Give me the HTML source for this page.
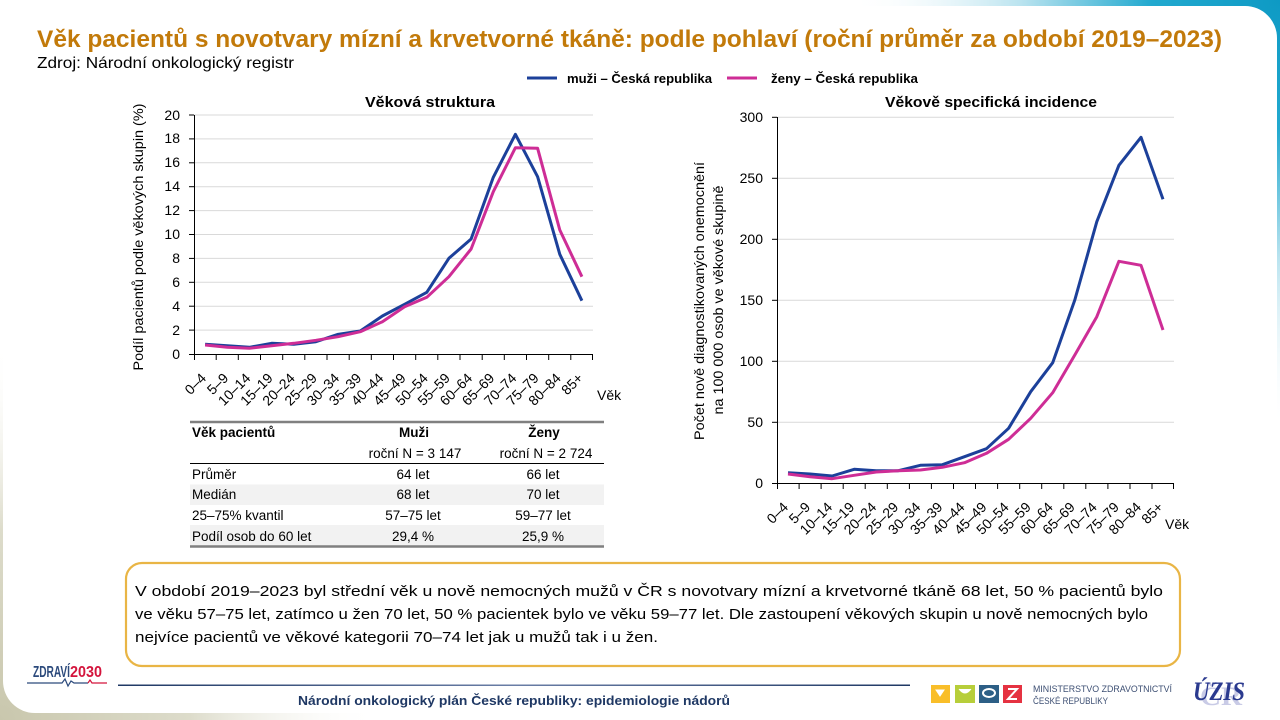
<!DOCTYPE html>
<html><head><meta charset="utf-8"><style>
html,body{margin:0;padding:0;width:1280px;height:720px;overflow:hidden;background:#fff}
svg{display:block;font-family:"Liberation Sans",sans-serif}
</style></head><body>
<svg width="1280" height="720" viewBox="0 0 1280 720" xmlns="http://www.w3.org/2000/svg">
<defs>
<radialGradient id="teal" cx="1280" cy="0" r="430" gradientUnits="userSpaceOnUse">
<stop offset="0" stop-color="#0e9ac4"/><stop offset="0.3" stop-color="#22a9cf"/><stop offset="0.6" stop-color="#b9e3ef"/><stop offset="1" stop-color="#ffffff" stop-opacity="0"/>
</radialGradient>
<radialGradient id="beige" cx="0" cy="720" r="380" gradientUnits="userSpaceOnUse">
<stop offset="0" stop-color="#c9c7ad"/><stop offset="0.5" stop-color="#dddccb"/><stop offset="1" stop-color="#ffffff" stop-opacity="0"/>
</radialGradient>
<linearGradient id="fline" x1="0" x2="1" y1="0" y2="0">
<stop offset="0" stop-color="#1f3864"/><stop offset="0.5" stop-color="#6a7ea6"/><stop offset="1" stop-color="#1f3864"/>
</linearGradient>
</defs>
<rect width="1280" height="720" fill="#fff"/>
<rect width="1280" height="720" fill="url(#teal)"/>
<rect width="1280" height="720" fill="url(#beige)"/>
<rect x="3" y="6" width="1274" height="707" rx="32" fill="#fff"/>

<!-- Title -->
<text x="37" y="47" font-size="24" font-weight="bold" fill="#c27a0a" textLength="1185" lengthAdjust="spacingAndGlyphs">Věk pacientů s novotvary mízní a krvetvorné tkáně: podle pohlaví (roční průměr za období 2019–2023)</text>
<text x="37" y="68" font-size="16" fill="#000" textLength="257" lengthAdjust="spacingAndGlyphs">Zdroj: Národní onkologický registr</text>

<!-- Legend -->
<line x1="527" y1="78" x2="557" y2="78" stroke="#1c409a" stroke-width="3"/>
<text x="567" y="83" font-size="12.5" font-weight="bold" fill="#000" textLength="145" lengthAdjust="spacingAndGlyphs">muži – Česká republika</text>
<line x1="727" y1="78" x2="757" y2="78" stroke="#ce2d96" stroke-width="3"/>
<text x="771" y="83" font-size="12.5" font-weight="bold" fill="#000" textLength="147" lengthAdjust="spacingAndGlyphs">ženy – Česká republika</text>

<!-- LEFT CHART -->
<text x="430" y="107" font-size="15" font-weight="bold" text-anchor="middle" textLength="130" lengthAdjust="spacingAndGlyphs">Věková struktura</text>
<g stroke="#d9d9d9" stroke-width="1">
<line x1="194" x2="593" y1="330.1" y2="330.1"/><line x1="194" x2="593" y1="306.2" y2="306.2"/>
<line x1="194" x2="593" y1="282.3" y2="282.3"/><line x1="194" x2="593" y1="258.4" y2="258.4"/>
<line x1="194" x2="593" y1="234.5" y2="234.5"/><line x1="194" x2="593" y1="210.6" y2="210.6"/>
<line x1="194" x2="593" y1="186.7" y2="186.7"/><line x1="194" x2="593" y1="162.8" y2="162.8"/>
<line x1="194" x2="593" y1="138.9" y2="138.9"/><line x1="194" x2="593" y1="115" y2="115"/>
</g>
<g stroke="#000" stroke-width="1">
<line x1="194.5" y1="115" x2="194.5" y2="354"/>
<line x1="194" y1="354.5" x2="593" y2="354.5"/>
<line x1="189" x2="194" y1="354.5" y2="354.5"/><line x1="189" x2="194" y1="330.1" y2="330.1"/><line x1="189" x2="194" y1="306.2" y2="306.2"/><line x1="189" x2="194" y1="282.3" y2="282.3"/><line x1="189" x2="194" y1="258.4" y2="258.4"/><line x1="189" x2="194" y1="234.5" y2="234.5"/><line x1="189" x2="194" y1="210.6" y2="210.6"/><line x1="189" x2="194" y1="186.7" y2="186.7"/><line x1="189" x2="194" y1="162.8" y2="162.8"/><line x1="189" x2="194" y1="138.9" y2="138.9"/><line x1="189" x2="194" y1="115" y2="115"/>
<line x1="194.5" x2="194.5" y1="354" y2="360"/><line x1="216.2" x2="216.2" y1="354" y2="360"/><line x1="238.3" x2="238.3" y1="354" y2="360"/><line x1="260.5" x2="260.5" y1="354" y2="360"/><line x1="282.7" x2="282.7" y1="354" y2="360"/><line x1="304.8" x2="304.8" y1="354" y2="360"/><line x1="327" x2="327" y1="354" y2="360"/><line x1="349.2" x2="349.2" y1="354" y2="360"/><line x1="371.3" x2="371.3" y1="354" y2="360"/><line x1="393.5" x2="393.5" y1="354" y2="360"/><line x1="415.7" x2="415.7" y1="354" y2="360"/><line x1="437.8" x2="437.8" y1="354" y2="360"/><line x1="460" x2="460" y1="354" y2="360"/><line x1="482.2" x2="482.2" y1="354" y2="360"/><line x1="504.3" x2="504.3" y1="354" y2="360"/><line x1="526.5" x2="526.5" y1="354" y2="360"/><line x1="548.7" x2="548.7" y1="354" y2="360"/><line x1="570.8" x2="570.8" y1="354" y2="360"/><line x1="592.5" x2="592.5" y1="354" y2="360"/>
</g>
<g font-size="14" text-anchor="end" fill="#000">
<text x="180" y="359">0</text><text x="180" y="335">2</text><text x="180" y="311">4</text><text x="180" y="287">6</text><text x="180" y="263">8</text><text x="180" y="239">10</text><text x="180" y="215">12</text><text x="180" y="191">14</text><text x="180" y="167">16</text><text x="180" y="143">18</text><text x="180" y="120">20</text>
</g>
<text transform="translate(143,237) rotate(-90)" font-size="14" text-anchor="middle" textLength="267" lengthAdjust="spacingAndGlyphs">Podíl pacientů podle věkových skupin (%)</text>
<g font-size="14" text-anchor="end" fill="#000">
<text transform="translate(207,379) rotate(-45)">0–4</text>
<text transform="translate(229.3,379) rotate(-45)">5–9</text>
<text transform="translate(251.4,379) rotate(-45)">10–14</text>
<text transform="translate(273.6,379) rotate(-45)">15–19</text>
<text transform="translate(295.8,379) rotate(-45)">20–24</text>
<text transform="translate(317.9,379) rotate(-45)">25–29</text>
<text transform="translate(340.1,379) rotate(-45)">30–34</text>
<text transform="translate(362.3,379) rotate(-45)">35–39</text>
<text transform="translate(384.4,379) rotate(-45)">40–44</text>
<text transform="translate(406.6,379) rotate(-45)">45–49</text>
<text transform="translate(428.8,379) rotate(-45)">50–54</text>
<text transform="translate(450.9,379) rotate(-45)">55–59</text>
<text transform="translate(473.1,379) rotate(-45)">60–64</text>
<text transform="translate(495.3,379) rotate(-45)">65–69</text>
<text transform="translate(517.4,379) rotate(-45)">70–74</text>
<text transform="translate(539.6,379) rotate(-45)">75–79</text>
<text transform="translate(561.8,379) rotate(-45)">80–84</text>
<text transform="translate(583.9,379) rotate(-45)">85+</text>
</g>
<text x="597" y="400" font-size="14">Věk</text>
<polyline fill="none" stroke="#1c409a" stroke-width="3" stroke-linejoin="round" points="205.1,344.3 227.3,345.7 249.4,347.3 271.6,343.3 293.8,344.3 315.9,341.7 338.1,334.3 360.3,331 382.4,316 404.6,304.3 426.8,292.3 448.9,258.3 471.1,239 493.3,177.3 515.4,134.3 537.6,176.7 559.8,254.3 581.9,300.7"/>
<polyline fill="none" stroke="#ce2d96" stroke-width="3" stroke-linejoin="round" points="205.1,345 227.3,347.3 249.4,348.3 271.6,345.7 293.8,343.3 315.9,340.3 338.1,336.7 360.3,331.7 382.4,321.7 404.6,306.7 426.8,297.3 448.9,276.7 471.1,249 493.3,191.7 515.4,147.7 537.6,148.3 559.8,230 581.9,276.7"/>

<!-- TABLE -->
<rect x="190" y="484.5" width="414" height="20.5" fill="#f2f2f2"/>
<rect x="190" y="525" width="414" height="21" fill="#f2f2f2"/>
<line x1="190" x2="604" y1="422" y2="422" stroke="#808080" stroke-width="2.5"/>
<line x1="190" x2="604" y1="463.5" y2="463.5" stroke="#000" stroke-width="1"/>
<line x1="190" x2="604" y1="546.5" y2="546.5" stroke="#808080" stroke-width="2.5"/>
<g font-size="13.5" fill="#000">
<text x="192" y="437" font-weight="bold">Věk pacientů</text>
<text x="414" y="437" font-weight="bold" text-anchor="middle">Muži</text>
<text x="544" y="437" font-weight="bold" text-anchor="middle">Ženy</text>
<text x="415" y="458" text-anchor="middle">roční N = 3 147</text>
<text x="546" y="458" text-anchor="middle">roční N = 2 724</text>
<text x="192" y="479">Průměr</text>
<text x="413" y="479" text-anchor="middle">64 let</text>
<text x="543" y="479" text-anchor="middle">66 let</text>
<text x="192" y="499">Medián</text>
<text x="413" y="499" text-anchor="middle">68 let</text>
<text x="543" y="499" text-anchor="middle">70 let</text>
<text x="192" y="520">25–75% kvantil</text>
<text x="413" y="520" text-anchor="middle">57–75 let</text>
<text x="543" y="520" text-anchor="middle">59–77 let</text>
<text x="192" y="541">Podíl osob do 60 let</text>
<text x="413" y="541" text-anchor="middle">29,4 %</text>
<text x="543" y="541" text-anchor="middle">25,9 %</text>
</g>

<!-- RIGHT CHART -->
<text x="991" y="107" font-size="15" font-weight="bold" text-anchor="middle" textLength="212" lengthAdjust="spacingAndGlyphs">Věkově specifická incidence</text>
<g stroke="#d9d9d9" stroke-width="1">
<line x1="777" x2="1174" y1="422.3" y2="422.3"/><line x1="777" x2="1174" y1="361.3" y2="361.3"/>
<line x1="777" x2="1174" y1="300.3" y2="300.3"/><line x1="777" x2="1174" y1="239.3" y2="239.3"/>
<line x1="777" x2="1174" y1="178.3" y2="178.3"/><line x1="777" x2="1174" y1="117.3" y2="117.3"/>
</g>
<g stroke="#000" stroke-width="1">
<line x1="777.5" y1="117" x2="777.5" y2="483.5"/>
<line x1="777" y1="483.5" x2="1174" y2="483.5"/>
<line x1="772" x2="777" y1="483.5" y2="483.5"/><line x1="772" x2="777" y1="422.3" y2="422.3"/><line x1="772" x2="777" y1="361.3" y2="361.3"/><line x1="772" x2="777" y1="300.3" y2="300.3"/><line x1="772" x2="777" y1="239.3" y2="239.3"/><line x1="772" x2="777" y1="178.3" y2="178.3"/><line x1="772" x2="777" y1="117.3" y2="117.3"/>
<line x1="777.5" x2="777.5" y1="483" y2="489"/><line x1="799.1" x2="799.1" y1="483" y2="489"/><line x1="821.1" x2="821.1" y1="483" y2="489"/><line x1="843.2" x2="843.2" y1="483" y2="489"/><line x1="865.2" x2="865.2" y1="483" y2="489"/><line x1="887.3" x2="887.3" y1="483" y2="489"/><line x1="909.4" x2="909.4" y1="483" y2="489"/><line x1="931.4" x2="931.4" y1="483" y2="489"/><line x1="953.5" x2="953.5" y1="483" y2="489"/><line x1="975.5" x2="975.5" y1="483" y2="489"/><line x1="997.6" x2="997.6" y1="483" y2="489"/><line x1="1019.7" x2="1019.7" y1="483" y2="489"/><line x1="1041.7" x2="1041.7" y1="483" y2="489"/><line x1="1063.8" x2="1063.8" y1="483" y2="489"/><line x1="1085.8" x2="1085.8" y1="483" y2="489"/><line x1="1107.9" x2="1107.9" y1="483" y2="489"/><line x1="1130" x2="1130" y1="483" y2="489"/><line x1="1152" x2="1152" y1="483" y2="489"/><line x1="1173.5" x2="1173.5" y1="483" y2="489"/>
</g>
<g font-size="14" text-anchor="end" fill="#000">
<text x="763" y="488">0</text><text x="763" y="427">50</text><text x="763" y="366">100</text><text x="763" y="305">150</text><text x="763" y="244">200</text><text x="763" y="183">250</text><text x="763" y="122">300</text>
</g>
<text transform="translate(704,301) rotate(-90)" font-size="14" text-anchor="middle" textLength="278" lengthAdjust="spacingAndGlyphs">Počet nově diagnostikovaných onemocnění</text>
<text transform="translate(723,300) rotate(-90)" font-size="14" text-anchor="middle" textLength="229" lengthAdjust="spacingAndGlyphs">na 100 000 osob ve věkové skupině</text>
<g font-size="14" text-anchor="end" fill="#000">
<text transform="translate(789,508) rotate(-45)">0–4</text>
<text transform="translate(811.1,508) rotate(-45)">5–9</text>
<text transform="translate(833.1,508) rotate(-45)">10–14</text>
<text transform="translate(855.2,508) rotate(-45)">15–19</text>
<text transform="translate(877.2,508) rotate(-45)">20–24</text>
<text transform="translate(899.3,508) rotate(-45)">25–29</text>
<text transform="translate(921.4,508) rotate(-45)">30–34</text>
<text transform="translate(943.4,508) rotate(-45)">35–39</text>
<text transform="translate(965.5,508) rotate(-45)">40–44</text>
<text transform="translate(987.5,508) rotate(-45)">45–49</text>
<text transform="translate(1009.6,508) rotate(-45)">50–54</text>
<text transform="translate(1031.7,508) rotate(-45)">55–59</text>
<text transform="translate(1053.7,508) rotate(-45)">60–64</text>
<text transform="translate(1075.8,508) rotate(-45)">65–69</text>
<text transform="translate(1097.8,508) rotate(-45)">70–74</text>
<text transform="translate(1119.9,508) rotate(-45)">75–79</text>
<text transform="translate(1142,508) rotate(-45)">80–84</text>
<text transform="translate(1164,508) rotate(-45)">85+</text>
</g>
<text x="1165" y="529" font-size="14">Věk</text>
<polyline fill="none" stroke="#1c409a" stroke-width="3" stroke-linejoin="round" points="788,472.7 810.1,474 832.1,476 854.2,469.3 876.2,470.7 898.3,470.7 920.4,465.3 942.4,464.7 964.5,456.7 986.5,448.7 1008.6,428.3 1030.7,391.7 1052.7,362.7 1074.8,300 1096.8,221.7 1118.9,165.3 1141,137.3 1163,199.3"/>
<polyline fill="none" stroke="#ce2d96" stroke-width="3" stroke-linejoin="round" points="788,474 810.1,476.7 832.1,478.7 854.2,475.3 876.2,472 898.3,470.7 920.4,470 942.4,467.3 964.5,462.7 986.5,453.3 1008.6,439.3 1030.7,418.3 1052.7,392.7 1074.8,355 1096.8,316.7 1118.9,261.3 1141,265.3 1163,330"/>

<!-- TEXT BOX -->
<rect x="126" y="563" width="1054" height="103" rx="16" fill="#fff" stroke="#e9b545" stroke-width="2.2"/>
<g font-size="15" fill="#000">
<text x="135" y="596" textLength="1028" lengthAdjust="spacingAndGlyphs">V období 2019–2023 byl střední věk u nově nemocných mužů v ČR s novotvary mízní a krvetvorné tkáně 68 let, 50 % pacientů bylo</text>
<text x="135" y="619" textLength="1013" lengthAdjust="spacingAndGlyphs">ve věku 57–75 let, zatímco u žen 70 let, 50 % pacientek bylo ve věku 59–77 let. Dle zastoupení věkových skupin u nově nemocných bylo</text>
<text x="135" y="642" textLength="523" lengthAdjust="spacingAndGlyphs">nejvíce pacientů ve věkové kategorii 70–74 let jak u mužů tak i u žen.</text>
</g>

<!-- FOOTER -->
<rect x="118" y="684.5" width="792" height="1.5" fill="url(#fline)"/>
<text x="514" y="705" font-size="12.5" font-weight="bold" fill="#1f3864" text-anchor="middle" textLength="432" lengthAdjust="spacingAndGlyphs">Národní onkologický plán České republiky: epidemiologie nádorů</text>

<text x="33" y="677" font-size="16" font-weight="bold" fill="#2c4a7c" textLength="37" lengthAdjust="spacingAndGlyphs">ZDRAVÍ</text>
<text x="70" y="677" font-size="16" font-weight="bold" fill="#d4143c" textLength="32" lengthAdjust="spacingAndGlyphs">2030</text>
<polyline fill="none" stroke="#2c4a7c" stroke-width="1.2" points="27,683 62,683 65,679 68,686 71,681 74,683 88,683"/>
<polyline fill="none" stroke="#d4143c" stroke-width="1.2" points="88,683 90,680 92,683 107,683"/>

<rect x="931" y="685" width="19" height="18" fill="#f9be29"/>
<rect x="955" y="685" width="20" height="18" fill="#b7ce3a"/>
<rect x="979" y="685" width="20" height="18" fill="#2d5f86"/>
<rect x="1003" y="685" width="19" height="18" fill="#e53241"/>
<path d="M936,690 l4,6 l4,-6z M959,689 q6,8 12,0" fill="#fff" stroke="#fff" stroke-width="1"/>
<ellipse cx="989" cy="693" rx="6" ry="4" fill="none" stroke="#fff" stroke-width="2"/>
<path d="M1008,689 l9,0 l-9,10 l9,0" fill="none" stroke="#fff" stroke-width="2"/>
<text x="1033" y="692" font-size="9.5" fill="#3d4f73" textLength="139" lengthAdjust="spacingAndGlyphs">MINISTERSTVO ZDRAVOTNICTVÍ</text>
<text x="1033" y="704" font-size="9.5" fill="#3d4f73" textLength="75" lengthAdjust="spacingAndGlyphs">ČESKÉ REPUBLIKY</text>

<text x="1200" y="705" font-size="26" font-family="Liberation Serif, serif" font-weight="bold" fill="#c9cbe6" textLength="42" lengthAdjust="spacingAndGlyphs">ČR</text>
<text x="1193" y="700" font-size="26" font-family="Liberation Serif, serif" font-weight="bold" font-style="italic" fill="#2b3a8f" textLength="52" lengthAdjust="spacingAndGlyphs">ÚZIS</text>
</svg>
</body></html>
